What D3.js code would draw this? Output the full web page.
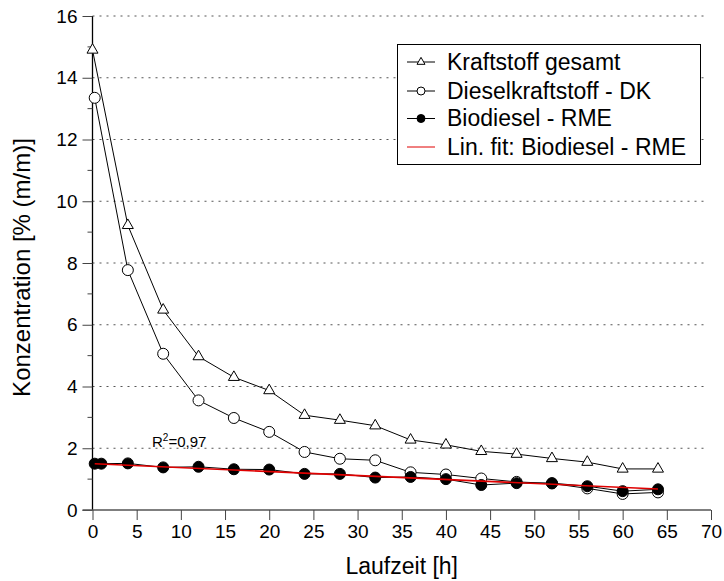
<!DOCTYPE html>
<html>
<head>
<meta charset="utf-8">
<script src="https://cdn.jsdelivr.net/npm/d3@7"></script>
<style>
  html, body { margin: 0; padding: 0; background: #fff; }
  svg { display: block; font-family: "Liberation Sans", Arial, Helvetica, sans-serif; }
</style>
</head>
<body>
<svg id="chart" width="724" height="581"></svg>
<script>
// ---- Data ----
const timeK   = [0, 4, 8, 12, 16, 20, 24, 28, 32, 36, 40, 44, 48, 52, 56, 60, 64];
const kraftstoffGesamt = [14.9, 9.22, 6.48, 4.97, 4.30, 3.87, 3.07, 2.91, 2.73, 2.27, 2.11, 1.90, 1.81, 1.67, 1.55, 1.33, 1.33];

const timeDK  = [0.25, 4, 8, 12, 16, 20, 24, 28, 32, 36, 40, 44, 48, 52, 56, 60, 64];
const dieselDK = [13.35, 7.77, 5.06, 3.55, 2.98, 2.53, 1.88, 1.66, 1.61, 1.22, 1.15, 1.02, 0.91, 0.86, 0.70, 0.52, 0.57];

const timeRME = [0.25, 1, 4, 8, 12, 16, 20, 24, 28, 32, 36, 40, 44, 48, 52, 56, 60, 64];
const biodieselRME = [1.50, 1.50, 1.51, 1.38, 1.40, 1.32, 1.31, 1.17, 1.17, 1.05, 1.07, 1.00, 0.81, 0.87, 0.87, 0.77, 0.61, 0.67];

const fitX = [0.25, 64];
const fitY = [1.50, 0.68];

const xTicks = [0, 5, 10, 15, 20, 25, 30, 35, 40, 45, 50, 55, 60, 65, 70];
const yTicks = [0, 2, 4, 6, 8, 10, 12, 14, 16];
const yMinorTicks = [1, 3, 5, 7, 9, 11, 13, 15];

const seriesNames = ["Kraftstoff gesamt", "Dieselkraftstoff - DK", "Biodiesel - RME", "Lin. fit: Biodiesel - RME"];
const xTitle = "Laufzeit [h]";
const yTitle = "Konzentration [% (m/m)]";
const r2Label = ["R", "2", "=0,97"];

// ---- Layout ----
const svg = d3.select("#chart");
const x = d3.scaleLinear().domain([0, 70]).range([92.5, 711]);
const y = d3.scaleLinear().domain([0, 16]).range([510, 16]);

// gridlines
svg.append("g").selectAll("line").data(yTicks.filter(d => d > 0)).join("line")
  .attr("x1", x(0)).attr("x2", x(70) - 4)
  .attr("y1", d => y(d)).attr("y2", d => y(d))
  .attr("stroke", "#555").attr("stroke-width", 1)
  .attr("stroke-dasharray", "2,5");

// y axis
const yAxis = d3.axisLeft(y).tickValues(yTicks).tickSize(10).tickPadding(5).tickFormat(d3.format("d"));
const gy = svg.append("g").attr("transform", `translate(${x(0)},0)`).call(yAxis);
gy.select(".domain").attr("stroke", "#000").attr("stroke-width", 1.3).attr("d", `M0,${y(0)}V${y(16)}`);
gy.selectAll(".tick line").attr("stroke", "#444");
gy.selectAll(".tick text").attr("font-size", 19).attr("font-family", "Liberation Sans, Arial, sans-serif").attr("fill", "#000");
svg.append("g").selectAll("line").data(yMinorTicks).join("line")
  .attr("x1", x(0) - 5).attr("x2", x(0))
  .attr("y1", d => y(d)).attr("y2", d => y(d))
  .attr("stroke", "#444");

// x axis
const xAxis = d3.axisBottom(x).tickValues(xTicks).tickSize(10).tickPadding(5).tickFormat(d3.format("d"));
const gx = svg.append("g").attr("transform", `translate(0,${y(0)})`).call(xAxis);
gx.select(".domain").attr("stroke", "#555").attr("stroke-width", 1.3).attr("d", `M${x(0) - 10},0H${x(70)}`);
gx.selectAll(".tick line").attr("stroke", "#444");
gx.selectAll(".tick text").attr("font-size", 19).attr("font-family", "Liberation Sans, Arial, sans-serif").attr("fill", "#000");

// axis titles
svg.append("text").attr("x", (x(0) + x(70)) / 2).attr("y", 574)
  .attr("text-anchor", "middle").attr("font-size", 23).text(xTitle);
svg.append("text").attr("transform", `translate(30,267.5) rotate(-90)`)
  .attr("text-anchor", "middle").attr("font-size", 24).text(yTitle);

// markers
const triPath = (s) => `M0,${-s * 0.58}L${s / 2},${s * 0.29}L${-s / 2},${s * 0.29}Z`;

const line = d3.line().x(d => x(d[0])).y(d => y(d[1]));
const dK = timeK.map((t, i) => [t, kraftstoffGesamt[i]]);
const dDK = timeDK.map((t, i) => [t, dieselDK[i]]);
const dRME = timeRME.map((t, i) => [t, biodieselRME[i]]);
const dFit = fitX.map((t, i) => [t, fitY[i]]);

// Kraftstoff gesamt
svg.append("path").datum(dK).attr("d", line).attr("fill", "none").attr("stroke", "#000").attr("stroke-width", 1);
svg.append("g").selectAll("path").data(dK).join("path")
  .attr("transform", d => `translate(${x(d[0])},${y(d[1])})`)
  .attr("d", triPath(11)).attr("fill", "#fff").attr("stroke", "#000").attr("stroke-width", 1);

// Dieselkraftstoff
svg.append("path").datum(dDK).attr("d", line).attr("fill", "none").attr("stroke", "#000").attr("stroke-width", 1);
svg.append("g").selectAll("circle").data(dDK).join("circle")
  .attr("cx", d => x(d[0])).attr("cy", d => y(d[1])).attr("r", 5.5)
  .attr("fill", "#fff").attr("stroke", "#000").attr("stroke-width", 1);

// Biodiesel
svg.append("path").datum(dRME).attr("d", line).attr("fill", "none").attr("stroke", "#000").attr("stroke-width", 1);
svg.append("g").selectAll("circle").data(dRME).join("circle")
  .attr("cx", d => x(d[0])).attr("cy", d => y(d[1])).attr("r", 5.5)
  .attr("fill", "#000").attr("stroke", "#000").attr("stroke-width", 1);

// Fit
svg.append("path").datum(dFit).attr("d", line).attr("fill", "none").attr("stroke", "#e00000").attr("stroke-width", 1.6);

// R² label
const r2 = svg.append("text").attr("x", 152).attr("y", 447).attr("font-size", 15);
r2.append("tspan").text(r2Label[0]);
r2.append("tspan").attr("dy", -6).attr("font-size", 10).text(r2Label[1]);
r2.append("tspan").attr("dy", 6).text(r2Label[2]);

// Legend
const leg = svg.append("g");
leg.append("rect").attr("x", 397.5).attr("y", 44.5).attr("width", 303).attr("height", 120)
  .attr("fill", "#fff").attr("stroke", "#000").attr("stroke-width", 1);
const rowY = [62, 91, 118.5, 147];
seriesNames.forEach((name, i) => {
  const cy = rowY[i];
  leg.append("line").attr("x1", 407).attr("x2", 435).attr("y1", cy).attr("y2", cy)
    .attr("stroke", i === 3 ? "#e00000" : "#000").attr("stroke-width", 1);
  if (i === 0) {
    leg.append("path").attr("transform", `translate(421,${cy})`).attr("d", triPath(8))
      .attr("fill", "#fff").attr("stroke", "#000");
  } else if (i === 1) {
    leg.append("circle").attr("cx", 421).attr("cy", cy).attr("r", 4)
      .attr("fill", "#fff").attr("stroke", "#000");
  } else if (i === 2) {
    leg.append("circle").attr("cx", 421).attr("cy", cy).attr("r", 4)
      .attr("fill", "#000").attr("stroke", "#000");
  }
  leg.append("text").attr("x", 447).attr("y", cy + 7.8).attr("font-size", 23).text(name);
});
</script>
</body>
</html>
